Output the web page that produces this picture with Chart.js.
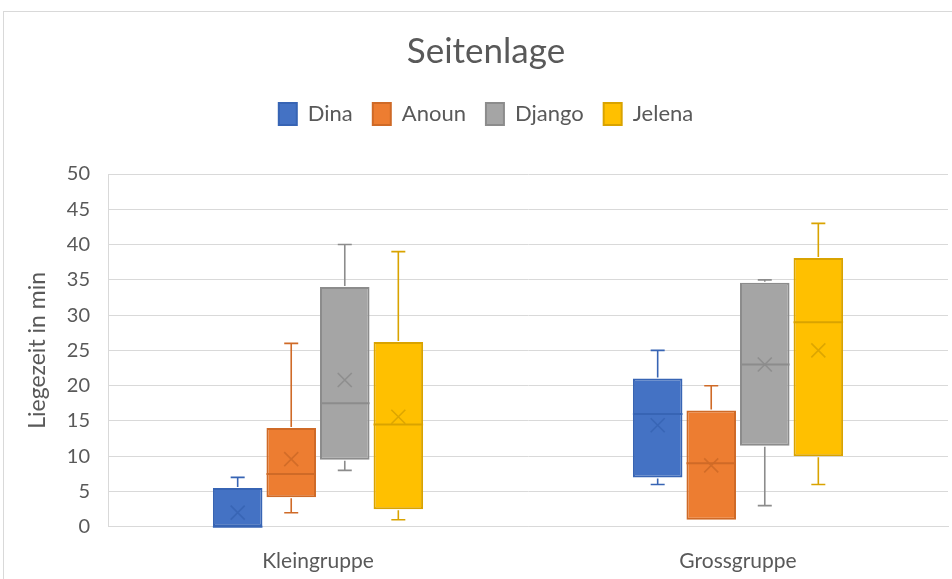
<!DOCTYPE html>
<html>
<head>
<meta charset="utf-8">
<script src="https://cdn.jsdelivr.net/npm/chart.js@4"></script>
<style>
  html, body { margin: 0; padding: 0; background: #fff; overflow: hidden; }
  #wrap { position: relative; width: 952px; height: 579px; overflow: hidden; }
  #frame { position: absolute; left: 3px; top: 11px; width: 980px; height: 600px; border: 1px solid #d9d9d9; }
  #c { position: absolute; left: 0; top: 0; }
</style>
</head>
<body>
<div id="wrap">
  <div id="frame"></div>
  <canvas id="c" width="952" height="596"></canvas>
</div>
<script>
// box plot "Seitenlage" — boxes are floating bars, whiskers/median/mean drawn by a small plugin

const categories = ['Kleingruppe', 'Grossgruppe'];
const seriesNames = ['Dina', 'Anoun', 'Django', 'Jelena'];

// one row per series, one column per category
const whiskerLow  = [[0, 6],     [2, 1],    [8, 3],      [1, 6]];
const quartile1   = [[0, 7],     [4.2, 1],  [9.5, 11.5], [2.5, 10]];
const medians     = [[0, 16],    [7.5, 9],  [17.5, 23],  [14.5, 29]];
const quartile3   = [[5.5, 21],  [14, 16.5],[34, 34.6],  [26.2, 38.1]];
const whiskerHigh = [[7, 25],    [26, 20],  [40, 35],    [39, 43]];
const means       = [[2, 14.4],  [9.6, 8.7],[20.8, 23],  [15.6, 25]];

const fills   = ['#4472C4', '#ED7D31', '#A5A5A5', '#FFC000'];
const borders = ['#3764B4', '#CF6A27', '#8C8C8C', '#D9A300'];

const textColor = '#595959';
const gridColor = '#d9d9d9';
const fontFam = 'Lato, "Open Sans", sans-serif';

const datasets = seriesNames.map((name, s) => ({
  label: name,
  data: categories.map((_, i) => [quartile1[s][i], quartile3[s][i]]),
  backgroundColor: fills[s],
  borderColor: borders[s],
  borderWidth: 2,
  borderSkipped: false,
  categoryPercentage: 0.51,
  barPercentage: 0.925
}));

// extra room under the legend
const legendGap = {
  id: 'legendGap',
  beforeInit(chart) {
    const fit = chart.legend.fit;
    chart.legend.fit = function () {
      fit.bind(chart.legend)();
      this.height += 39;
    };
  }
};

const boxExtras = {
  id: 'boxExtras',
  afterDatasetsDraw(chart) {
    const ctx = chart.ctx;
    const y = chart.scales.y;
    chart.data.datasets.forEach((ds, s) => {
      const meta = chart.getDatasetMeta(s);
      meta.data.forEach((bar, i) => {
        const x = bar.x;
        const half = bar.width / 2;
        const cap = 7;
        const pHi = y.getPixelForValue(whiskerHigh[s][i]);
        const pQ3 = y.getPixelForValue(quartile3[s][i]);
        const pQ1 = y.getPixelForValue(quartile1[s][i]);
        const pLo = y.getPixelForValue(whiskerLow[s][i]);
        const pMed = y.getPixelForValue(medians[s][i]);
        const pMean = y.getPixelForValue(means[s][i]);
        ctx.save();
        ctx.strokeStyle = borders[s];
        ctx.lineWidth = 1.6;
        ctx.beginPath();
        if (pHi < pQ3 - 0.5) {
          ctx.moveTo(x, pQ3 - 1); ctx.lineTo(x, pHi);
          ctx.moveTo(x - cap, pHi); ctx.lineTo(x + cap, pHi);
        }
        if (pLo > pQ1 + 0.5) {
          ctx.moveTo(x, pQ1 + 1); ctx.lineTo(x, pLo);
          ctx.moveTo(x - cap, pLo); ctx.lineTo(x + cap, pLo);
        }
        ctx.stroke();
        // median
        ctx.lineWidth = 2;
        ctx.beginPath();
        ctx.moveTo(x - half, pMed); ctx.lineTo(x + half, pMed);
        ctx.stroke();
        // mean as an X
        const m = 7;
        ctx.lineWidth = 1.6;
        ctx.globalAlpha = 0.9;
        ctx.beginPath();
        ctx.moveTo(x - m, pMean - m); ctx.lineTo(x + m, pMean + m);
        ctx.moveTo(x + m, pMean - m); ctx.lineTo(x - m, pMean + m);
        ctx.stroke();
        ctx.restore();
      });
    });
  }
};

new Chart(document.getElementById('c'), {
  type: 'bar',
  data: { labels: categories, datasets },
  options: {
    responsive: false,
    animation: false,
    layout: { padding: { left: 24, right: 4, top: 20, bottom: 0 } },
    plugins: {
      title: {
        display: true,
        text: 'Seitenlage',
        color: textColor,
        font: { family: fontFam, size: 35, weight: 'normal' },
        padding: { top: 11, bottom: 10 }
      },
      legend: {
        position: 'top',
        labels: {
          color: textColor,
          font: { family: fontFam, size: 22 },
          boxWidth: 18,
          boxHeight: 22,
          padding: 20
        }
      },
      tooltip: { enabled: false }
    },
    scales: {
      x: {
        grid: { display: false, drawTicks: false },
        border: { display: true, color: gridColor, width: 1 },
        ticks: { color: textColor, font: { family: fontFam, size: 21 }, padding: 22 }
      },
      y: {
        min: 0,
        max: 50,
        afterFit(scale) { scale.width = 84; },
        grid: { color: gridColor, lineWidth: 1, drawTicks: false },
        border: { display: true, color: gridColor, width: 1 },
        ticks: { stepSize: 5, color: textColor, font: { family: fontFam, size: 20 }, padding: 18 },
        title: {
          display: true,
          text: 'Liegezeit in min',
          color: textColor,
          font: { family: fontFam, size: 23 },
          padding: 0
        }
      }
    }
  },
  plugins: [legendGap, boxExtras]
});
</script>
</body>
</html>
